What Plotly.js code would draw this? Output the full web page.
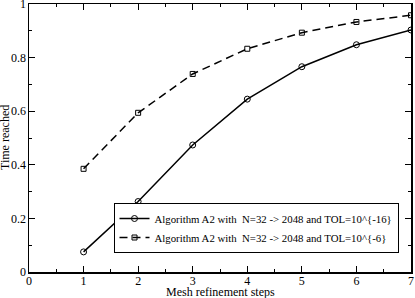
<!DOCTYPE html>
<html><head><meta charset="utf-8">
<script src="https://cdn.plot.ly/plotly-3.0.1.min.js"></script>
<style>html,body{margin:0;padding:0;background:#fff}</style>
</head><body>
<div id="chart" style="width:415px;height:298px"></div>
<script>
var steps = [1, 2, 3, 4, 5, 6, 7];
var tol16 = [0.075, 0.263, 0.474, 0.645, 0.766, 0.848, 0.903];
var tol6 = [0.385, 0.594, 0.739, 0.833, 0.893, 0.933, 0.958];
var yTickVals = [0, 0.2, 0.4, 0.6, 0.8, 1];
var yTickText = ['0', '0.2', '0.4', '0.6', '0.8', '1'];
var xTitle = 'Mesh refinement steps';
var yTitle = 'Time reached';
var name16 = "Algorithm A2 with \u00a0N=32 -> 2048 and TOL=10^{-16}";
var name6 = "Algorithm A2 with \u00a0N=32 -> 2048 and TOL=10^{-6}";

var traces = [
  {x: steps, y: tol16, name: name16, mode: 'lines+markers', type: 'scatter',
   line: {color: '#000', width: 1.5, dash: 'solid'},
   marker: {symbol: 'circle-open', size: 6, color: '#000', line: {width: 1}}},
  {x: steps, y: tol6, name: name6, mode: 'lines+markers', type: 'scatter',
   line: {color: '#000', width: 1.5, dash: '8px,5px'},
   marker: {symbol: 'square-open', size: 5, color: '#000', line: {width: 1}}}
];

var serif = 'Liberation Serif, Times New Roman, serif';
var axBase = {
  showgrid: false, zeroline: false, showline: true, linecolor: '#000', linewidth: 1.5,
  mirror: 'ticks', ticks: 'inside', ticklen: 6, tickwidth: 1, tickcolor: '#000',
  automargin: false, ticklabeloverflow: 'allow',
  tickfont: {family: serif, size: 12, color: '#000'}
};
var layout = {
  width: 415, height: 298,
  margin: {l: 29, r: 4, t: 4, b: 26},
  paper_bgcolor: '#fff', plot_bgcolor: '#fff',
  showlegend: true,
  font: {family: serif, color: '#000'},
  xaxis: Object.assign({}, axBase, {
    range: [0, 7], dtick: 1, tick0: 0, ticklabelstandoff: -3,
    minor: {dtick: 0.5, ticks: 'inside', ticklen: 3, tickcolor: '#000', tickwidth: 1}
  }),
  yaxis: Object.assign({}, axBase, {
    range: [0, 1], tickmode: 'array', tickvals: yTickVals, ticktext: yTickText,
    ticklabelstandoff: -1,
    minor: {tickmode: 'linear', tick0: 0, dtick: 0.1, ticks: 'inside', ticklen: 3, tickcolor: '#000', tickwidth: 1}
  }),
  annotations: [
    {text: xTitle, xref: 'paper', yref: 'paper', x: 0.5, y: -(292 - 272) / 268,
     xanchor: 'center', yanchor: 'middle', showarrow: false,
     font: {family: serif, size: 12, color: '#000'}},
    {text: yTitle, xref: 'paper', yref: 'paper', x: (5 - 29) / 382, y: 0.5, textangle: -90,
     xanchor: 'center', yanchor: 'middle', showarrow: false,
     font: {family: serif, size: 12, color: '#000'}}
  ],
  legend: {
    x: (256 - 29) / 382, y: (272 - 228) / 268, xref: 'paper', yref: 'paper',
    xanchor: 'center', yanchor: 'middle',
    bgcolor: '#fff', bordercolor: '#000', borderwidth: 1,
    font: {family: serif, size: 10.8, color: '#000'},
    tracegroupgap: 0, itemwidth: 30
  }
};
Plotly.newPlot('chart', traces, layout, {displayModeBar: false, staticPlot: true});
</script>
</body></html>
